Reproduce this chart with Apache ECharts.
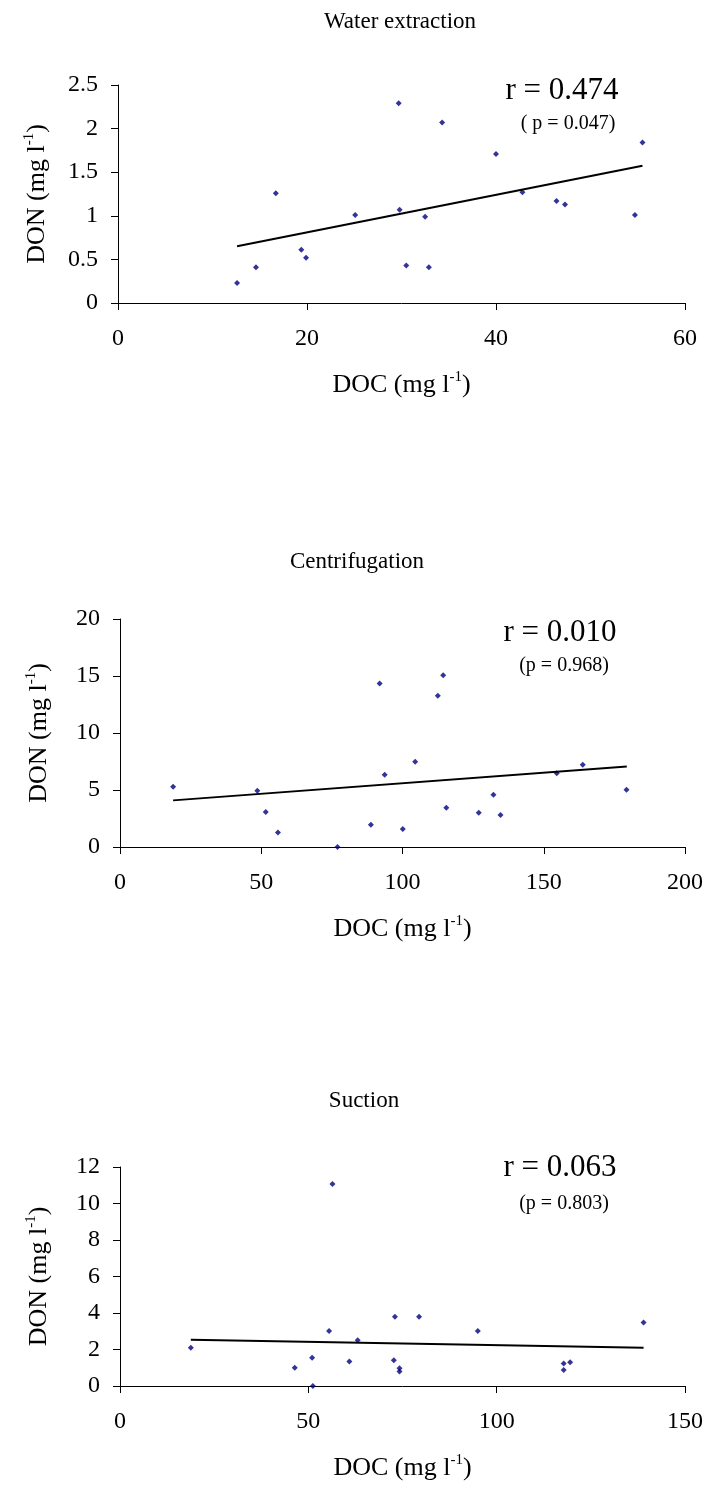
<!DOCTYPE html>
<html>
<head>
<meta charset="utf-8">
<script src="https://cdn.jsdelivr.net/npm/echarts@6/dist/echarts.min.js"></script>
<style>
  html, body { margin: 0; padding: 0; background: #fff; }
  #chart { width: 710px; height: 1503px; }
</style>
</head>
<body>
<div id="chart"></div>
<script>
// DOC vs DON for three soil-solution sampling methods
const panelTitles = ['Water extraction', 'Centrifugation', 'Suction'];
const rLabels = ['r = 0.474', 'r = 0.010', 'r = 0.063'];
const pLabels = ['( p = 0.047)', '(p = 0.968)', '(p = 0.803)'];

// Water extraction
const waterDoc = [12.6, 14.6, 16.7, 19.4, 19.9, 25.1, 29.7, 29.8, 30.5, 32.5, 32.9, 34.3, 40.0, 42.8, 46.4, 47.3, 54.7, 55.5];
const waterDon = [0.23, 0.41, 1.26, 0.61, 0.52, 1.01, 2.29, 1.07, 0.43, 0.99, 0.41, 2.07, 1.71, 1.27, 1.17, 1.13, 1.01, 1.84];
const waterFitX = [12.6, 55.5];
const waterFitY = [0.65, 1.575];

// Centrifugation
const centDoc = [18.8, 48.6, 51.6, 55.9, 77.0, 88.8, 91.9, 93.7, 100.1, 104.5, 112.5, 114.4, 115.5, 127.0, 132.2, 134.7, 154.6, 163.8, 179.3];
const centDon = [5.28, 4.93, 3.07, 1.28, 0.0, 1.96, 14.34, 6.34, 1.58, 7.47, 13.26, 15.07, 3.45, 3.01, 4.58, 2.80, 6.48, 7.21, 5.02];
const centFitX = [18.8, 179.4];
const centFitY = [4.09, 7.07];

// Suction
const suctDoc = [18.8, 46.4, 51.0, 51.2, 55.5, 56.4, 60.9, 63.1, 72.7, 73.0, 74.2, 74.2, 79.4, 95.0, 117.8, 117.8, 119.5, 139.0];
const suctDon = [2.10, 1.00, 1.55, 0.0, 3.02, 11.07, 1.34, 2.51, 1.41, 3.80, 0.97, 0.80, 3.80, 3.02, 1.23, 0.88, 1.30, 3.48];
const suctFitX = [18.8, 139.0];
const suctFitY = [2.54, 2.10];

// Axis ranges
const xMax = [60, 200, 150];
const xStep = [20, 50, 50];
const yMax = [2.5, 20, 12];
const yStep = [0.5, 5, 2];

const FONT = "'Liberation Serif', 'Times New Roman', serif";
const grids = [
  { left: 118, top: 85, width: 567, height: 218 },
  { left: 120, top: 619, width: 565, height: 228 },
  { left: 120, top: 1167, width: 565, height: 219 }
];

const pairs = (xs, ys) => xs.map((x, i) => [x, ys[i]]);
const scatterData = [pairs(waterDoc, waterDon), pairs(centDoc, centDon), pairs(suctDoc, suctDon)];
const fitData = [pairs(waterFitX, waterFitY), pairs(centFitX, centFitY), pairs(suctFitX, suctFitY)];

const nameRich = {
  n: { fontFamily: FONT, fontSize: 26, color: '#000', lineHeight: 30 },
  s: { fontFamily: FONT, fontSize: 15, color: '#000', verticalAlign: 'top', lineHeight: 30 }
};

const axisCommon = {
  axisLine: { show: true, onZero: false, lineStyle: { color: '#000', width: 1 } },
  axisTick: { show: true, inside: false, length: 7, lineStyle: { color: '#000' } },
  splitLine: { show: false },
  axisLabel: { fontFamily: FONT, fontSize: 24, color: '#000' },
  nameLocation: 'middle',
  nameTextStyle: { fontFamily: FONT, fontSize: 26, color: '#000', rich: nameRich }
};

const xAxes = grids.map((g, i) => Object.assign({}, axisCommon, {
  type: 'value', gridIndex: i, min: 0, max: xMax[i], interval: xStep[i],
  name: '{n|DOC (mg l}{s|-1}{n|)}', nameGap: 67,
  axisLabel: Object.assign({}, axisCommon.axisLabel, { margin: 24 })
}));
const yAxes = grids.map((g, i) => Object.assign({}, axisCommon, {
  type: 'value', gridIndex: i, min: 0, max: yMax[i], interval: yStep[i],
  name: '{n|DON (mg l}{s|-1}{n|)}', nameGap: 66, nameRotate: 90,
  axisLabel: Object.assign({}, axisCommon.axisLabel, { margin: 20 })
}));

const series = [];
for (let i = 0; i < 3; i++) {
  series.push({
    type: 'scatter', xAxisIndex: i, yAxisIndex: i, data: scatterData[i],
    symbol: 'diamond', symbolSize: 6, itemStyle: { color: '#000080' }, silent: true
  });
  series.push({
    type: 'line', xAxisIndex: i, yAxisIndex: i, data: fitData[i],
    showSymbol: false, lineStyle: { color: '#000', width: 2 }, silent: true
  });
}

const titlePos = [[400, 22], [357, 562], [364, 1101]];
const rPos = [[562, 91], [560, 633], [560, 1168]];
const pPos = [[568, 124], [564, 666], [564, 1204]];
const graphics = [];
for (let i = 0; i < 3; i++) {
  graphics.push({ type: 'text', x: titlePos[i][0], y: titlePos[i][1],
    style: { text: panelTitles[i], font: `23px ${FONT}`, fill: '#000', align: 'center', verticalAlign: 'middle' } });
  graphics.push({ type: 'text', x: rPos[i][0], y: rPos[i][1],
    style: { text: rLabels[i], font: `31px ${FONT}`, fill: '#000', align: 'center', verticalAlign: 'middle' } });
  graphics.push({ type: 'text', x: pPos[i][0], y: pPos[i][1],
    style: { text: pLabels[i], font: `20px ${FONT}`, fill: '#000', align: 'center', verticalAlign: 'middle' } });
}

const chart = echarts.init(document.getElementById('chart'), null, { renderer: 'canvas' });
chart.setOption({
  animation: false,
  backgroundColor: '#fff',
  grid: grids,
  xAxis: xAxes,
  yAxis: yAxes,
  series: series,
  graphic: graphics
});
</script>
</body>
</html>
